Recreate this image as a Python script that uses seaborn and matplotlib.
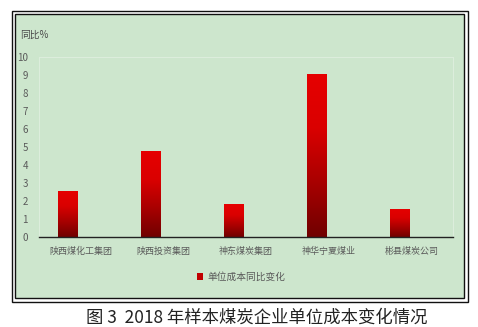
import numpy as np
import pandas as pd
import matplotlib
matplotlib.use("Agg")
import matplotlib.pyplot as plt
from matplotlib.patches import Rectangle
from matplotlib.colors import LinearSegmentedColormap
import seaborn as sns

categories = ["陕西煤化工集团", "陕西投资集团", "神东煤炭集团", "神华宁夏煤业", "彬县煤炭公司"]
values = [2.56, 4.78, 1.83, 9.06, 1.56]
series_name = "单位成本同比变化"
yticks = list(range(0, 11))
ylabel = "同比%"
caption = "图 3  2018 年样本煤炭企业单位成本变化情况"

sns.set_theme(style="white")
plt.rcParams['font.family'] = ['Noto Sans CJK SC', 'DejaVu Sans']

W, H = 478, 327
fig = plt.figure(figsize=(W / 100, H / 100), dpi=100)
fig.patch.set_facecolor("white")

def fx(x):
    return x / W

def fy(y):
    return 1 - y / H

bg = "#CDE6CD"
# outer frame and inner panel
fig.patches.append(Rectangle((fx(12), fy(302)), fx(468) - fx(12), fy(11) - fy(302),
                             transform=fig.transFigure, facecolor="white",
                             edgecolor="#111111", linewidth=1.0, zorder=-2))
fig.patches.append(Rectangle((fx(15), fy(298)), fx(464) - fx(15), fy(14) - fy(298),
                             transform=fig.transFigure, facecolor=bg,
                             edgecolor="#111111", linewidth=1.0, zorder=-1))

ax = fig.add_axes([fx(39), fy(237), fx(453) - fx(39), fy(57) - fy(237)])
ax.set_zorder(1)
ax.set_facecolor("none")

df = pd.DataFrame({
    "cat": categories * 2,
    "val": values + [0.0] * len(values),
    "series": [series_name] * len(values) + [" "] * len(values),
})
sns.barplot(data=df, x="cat", y="val", hue="series", order=categories,
            hue_order=[series_name, " "], palette=["#D00000", "#D00000"],
            width=0.6, gap=0.23, dodge=True, legend=False, ax=ax, saturation=1)

cmap = LinearSegmentedColormap.from_list("redgrad", ["#700000", "#A80000", "#DA0000", "#E60000"])
grad = np.linspace(0, 1, 256).reshape(-1, 1)
for p in list(ax.patches):
    h = p.get_height()
    if h <= 0:
        p.set_visible(False)
        continue
    x0 = p.get_x()
    w = p.get_width()
    p.set_facecolor("none")
    p.set_edgecolor("none")
    im = ax.imshow(grad, extent=(x0, x0 + w, 0, h), origin="lower", cmap=cmap,
                   aspect="auto", zorder=2)
    im.set_clip_path(p)

ax.set_xlim(-0.5, len(categories) - 0.5)
ax.set_ylim(0, 10)
ax.set_yticks(yticks)
ax.set_yticklabels([str(t) for t in yticks])
ax.set_xlabel("")
ax.set_ylabel("")
ax.tick_params(axis="x", length=0, labelsize=6.5, labelcolor="#5A5A5A", pad=7)
ax.tick_params(axis="y", length=0, labelsize=7, labelcolor="#5A5A5A", pad=8)
for side in ["top", "right", "left"]:
    ax.spines[side].set_color("#DCEDDC")
    ax.spines[side].set_linewidth(0.8)
ax.spines["bottom"].set_color("#222222")
ax.spines["bottom"].set_linewidth(1.0)

fig.text(fx(20), fy(35), ylabel, fontsize=7, color="#4A4A4A", va="center", ha="left")

handle = Rectangle((0, 0), 1, 1, facecolor="#C00000", edgecolor="none")
fig.legend([handle], [series_name], loc="center", bbox_to_anchor=(fx(241), fy(277)),
           frameon=False, fontsize=7, labelcolor="#5A5A5A", handlelength=0.7,
           handleheight=0.7, handletextpad=0.4, borderpad=0)

fig.text(fx(257), fy(318), caption, fontsize=12.5, color="#222222",
         ha="center", va="center")

fig.savefig("out.png", dpi=100, facecolor="white")
